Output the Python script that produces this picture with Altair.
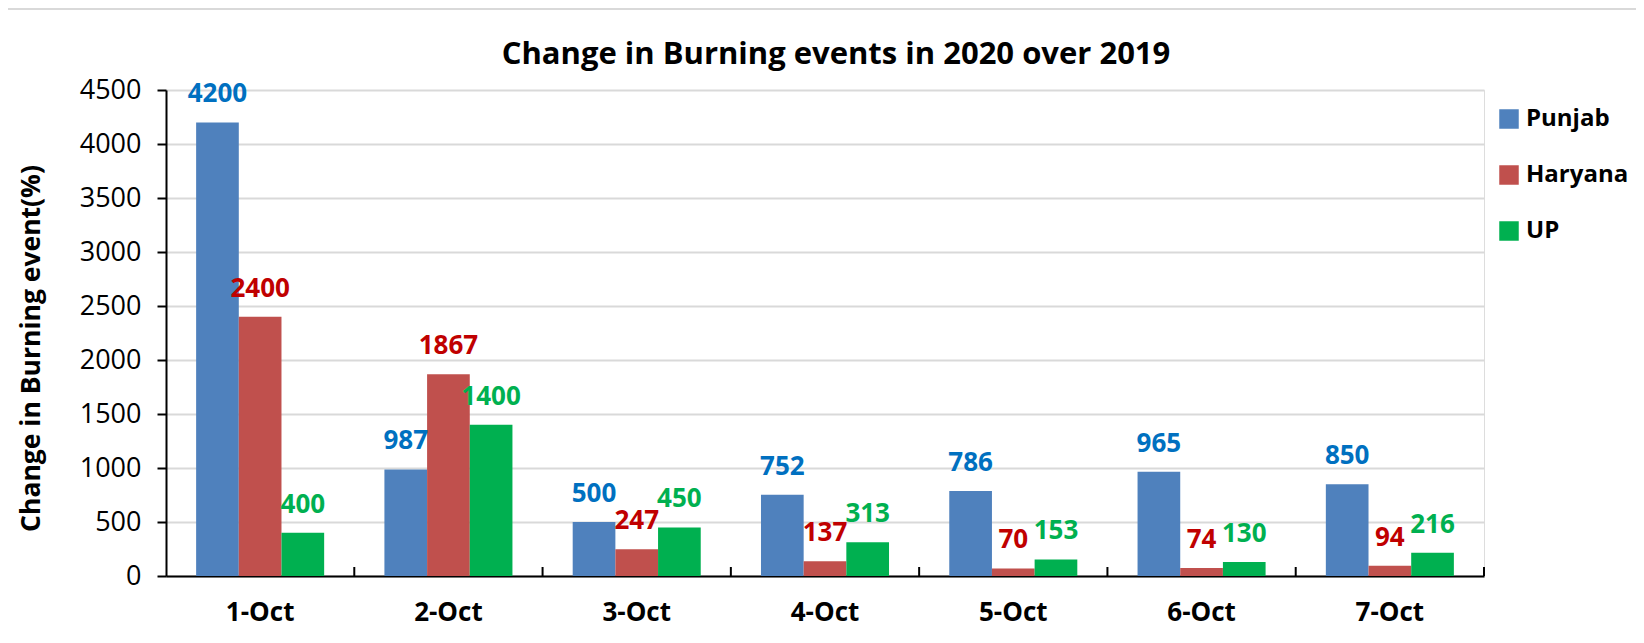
import altair as alt
import pandas as pd

dates = ["1-Oct", "2-Oct", "3-Oct", "4-Oct", "5-Oct", "6-Oct", "7-Oct"]
states = ["Punjab", "Haryana", "UP"]
punjab = [4200, 987, 500, 752, 786, 965, 850]
haryana = [2400, 1867, 247, 137, 70, 74, 94]
up = [400, 1400, 450, 313, 153, 130, 216]
y_ticks = [0, 500, 1000, 1500, 2000, 2500, 3000, 3500, 4000, 4500]
chart_title = "Change in Burning events in 2020 over 2019"

bar_colors = ["#4F81BD", "#C0504D", "#00B050"]
label_colors = ["#0070C0", "#C00000", "#00B050"]

rows = []
for i, d in enumerate(dates):
    for s, vals in zip(states, [punjab, haryana, up]):
        rows.append({"date": d, "state": s, "value": vals[i]})
df = pd.DataFrame(rows)

FONT = "Open Sans"
W, H = 1318, 486
STEP = W / len(dates)

x_enc = alt.X(
    "date:N",
    sort=dates,
    title=None,
    scale=alt.Scale(domain=dates, paddingInner=0.32, paddingOuter=0.16),
    axis=alt.Axis(
        labelAngle=0,
        labelFont=FONT,
        labelFontSize=26,
        labelFontWeight="bold",
        labelColor="black",
        labelPadding=23,
        ticks=False,
        domainColor="black",
        domainWidth=2,
        grid=False,
    ),
)

y_enc = alt.Y(
    "value:Q",
    scale=alt.Scale(domain=[0, 4500], nice=False),
    title="Change in Burning event(%)",
    axis=alt.Axis(
        values=y_ticks,
        format="d",
        labelFont=FONT,
        labelFontSize=27,
        labelColor="black",
        labelPadding=16,
        tickSize=9,
        tickWidth=2,
        tickColor="black",
        domainColor="black",
        domainWidth=2,
        gridColor="#D9D9D9",
        gridWidth=2,
        titleFont=FONT,
        titleFontSize=26.5,
        titleFontWeight="bold",
        titleColor="black",
        titleAngle=-90,
        titleX=-135,
        titleY=258,
        titleAlign="center",
        titleBaseline="middle",
    ),
)

base = alt.Chart(df)

bars = base.mark_bar().encode(
    x=x_enc,
    xOffset=alt.XOffset("state:N", sort=states, scale=alt.Scale(domain=states, paddingInner=0, paddingOuter=0)),
    y=y_enc,
    color=alt.Color(
        "state:N",
        sort=states,
        scale=alt.Scale(domain=states, range=bar_colors),
        legend=alt.Legend(
            title=None,
            orient="none",
            legendX=1331,
            legendY=17,
            symbolType="square",
            symbolSize=380,
            symbolStrokeWidth=0,
            labelFont=FONT,
            labelFontSize=24,
            labelFontWeight="bold",
            labelColor="black",
            labelOffset=5,
            rowPadding=32,
            padding=0,
        ),
    ),
)

labels = base.mark_text(
    font=FONT, fontSize=26, fontWeight="bold", baseline="alphabetic", dy=-20
).encode(
    x=alt.X("date:N", sort=dates),
    xOffset=alt.XOffset("state:N", sort=states),
    y="value:Q",
    text="value:Q",
    color=alt.Color("state:N", sort=states, scale=alt.Scale(domain=states, range=label_colors), legend=None),
)

bounds_df = pd.DataFrame({"date": dates[1:]})
last_df = pd.DataFrame({"date": [dates[-1]]})
title_df = pd.DataFrame({"t": [chart_title]})

sep_ticks = alt.Chart(bounds_df).mark_rule(color="black", strokeWidth=2, xOffset=-STEP / 2).encode(
    x=alt.X("date:N", sort=dates), y=alt.value(H - 9), y2=alt.value(H)
)
end_tick = alt.Chart(last_df).mark_rule(color="black", strokeWidth=2, xOffset=STEP / 2).encode(
    x=alt.X("date:N", sort=dates), y=alt.value(H - 9), y2=alt.value(H)
)

border = alt.Chart(last_df).mark_rect(
    fillOpacity=0, stroke="#D9D9D9", strokeWidth=2, clip=False
).encode(
    x=alt.value(-159), x2=alt.value(1700), y=alt.value(-81), y2=alt.value(900)
)

title = alt.Chart(title_df).mark_text(
    font=FONT, fontSize=31, fontWeight="bold", color="black", baseline="middle", align="center", clip=False
).encode(
    text="t:N", x=alt.value(W / 2 + 11), y=alt.value(-35)
)

chart = (
    alt.layer(border, bars, labels, sep_ticks, end_tick, title)
    .resolve_scale(color="independent")
    .properties(
        width=W,
        height=H,
        autosize=alt.AutoSizeParams(type="none"),
        padding={"left": 158, "top": 82, "right": 152, "bottom": 56},
    )
    .configure_view(stroke=None)
    .configure(background="white")
)

chart.save("out.html", embed_options={"renderer": "svg", "actions": False})
